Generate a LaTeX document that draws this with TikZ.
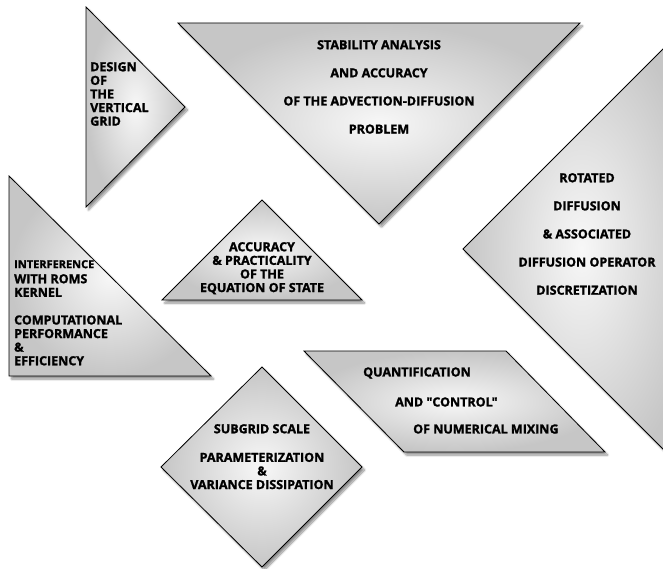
\documentclass[tikz,border=0pt]{standalone}
\usepackage{fontspec}
\setmainfont{Open Sans}[Ligatures=TeXOff, BoldFeatures={FakeBold=1.5}]
\usetikzlibrary{shadows.blur}

\tikzset{
  piece/.style={draw=black, line width=0.8pt, inner color=gray!6, outer color=gray!45,
    blur shadow={shadow xshift=2.5pt, shadow yshift=-3pt, shadow blur steps=8, shadow opacity=45}},
  caption/.style={font=\bfseries\fontsize{12.5}{13.6}\selectfont, inner sep=0pt, anchor=north, align=center},
  small/.style={font=\bfseries\fontsize{11}{13.6}\selectfont}
}

\begin{document}
\begin{tikzpicture}[x=1pt,y=-1pt]

\clip (0,0) rectangle (663,569);

% Pieces
\draw [piece] (86,7) -- (185,107) -- (86,207) -- cycle;
\draw [piece] (178,23) -- (580,23) -- (379,224) -- cycle;
\draw [piece] (463,249) -- (700,12) -- (700,486) -- cycle;
\draw [piece] (9,176) -- (211,376) -- (9,376) -- cycle;
\draw [piece] (262,200) -- (362,300) -- (162,300) -- cycle;
\draw [piece] (304,351) -- (506,351) -- (605,452) -- (404,452) -- cycle;
\draw [piece] (262,367) -- (362,467) -- (262,567) -- (161,467) -- cycle;

% Labels
\node [caption, anchor=north west, align=left] (design) at (90,62) {DESIGN\\OF\\THE\\VERTICAL\\GRID};
\node [caption] (stability) at (379,40) {STABILITY ANALYSIS\\[14.5pt]AND ACCURACY\\[14.5pt]OF THE ADVECTION-DIFFUSION\\[14.5pt]PROBLEM};
\node [caption] (rotated) at (587,173) {ROTATED\\[14.5pt]DIFFUSION\\[14.5pt]\& ASSOCIATED\\[14.5pt]DIFFUSION OPERATOR\\[14.5pt]DISCRETIZATION};
\node [caption, small, anchor=north west] (interference) at (14,260) {INTERFERENCE};
\node [caption, anchor=north west, align=left] (kernel) at (14,274) {WITH ROMS\\KERNEL\\[14pt]COMPUTATIONAL\\PERFORMANCE\\\&\\EFFICIENCY};
\node [caption] (state) at (262,242) {ACCURACY\\\& PRACTICALITY\\OF THE\\EQUATION OF STATE};
\node [caption, anchor=west] (quantification) at (363,373) {QUANTIFICATION};
\node [caption, anchor=west] (control) at (395,402) {AND "CONTROL"};
\node [caption, anchor=west] (mixing) at (413,429) {OF NUMERICAL MIXING};
\node [caption] (subgrid) at (262,424) {SUBGRID SCALE\\[15pt]PARAMETERIZATION\\\&\\VARIANCE DISSIPATION};

\end{tikzpicture}
\end{document}
